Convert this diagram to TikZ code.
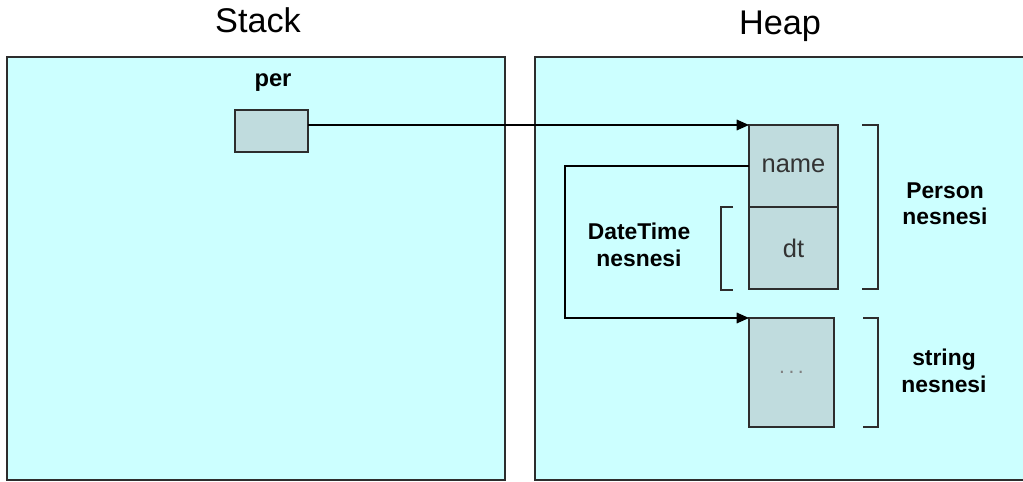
\documentclass[tikz,border=0pt]{standalone}
\usepackage{fontspec}
\setmainfont{Liberation Sans}
\usepackage{tikz}
\usetikzlibrary{arrows.meta, positioning}
\definecolor{memcyan}{RGB}{204,255,255}
\definecolor{cellgray}{RGB}{192,220,222}
\definecolor{edgegray}{RGB}{45,45,45}
\tikzstyle{area} = [rectangle, draw=edgegray, fill=memcyan, line width=1.2pt,
  minimum height=8.46cm]
\tikzstyle{cell} = [rectangle, draw=edgegray, fill=cellgray, line width=0.8pt,
  outer sep=0pt, text=black!80, font=\fontsize{14.5}{16}\selectfont]
\tikzstyle{lbl} = [align=center, font=\fontsize{13}{15}\selectfont\bfseries]
\tikzstyle{arrow} = [line width=0.9pt, draw=black, -{Triangle[length=7pt, width=6pt]}]
\tikzstyle{bracket} = [line width=0.9pt, draw=edgegray]

\begin{document}
\begin{tikzpicture}[x=0.02cm, y=-0.02cm]
    \useasboundingbox (0,0) rectangle (1023,482);
    \clip (0,0) rectangle (1023,482);
    % memory areas
    \node[area, minimum width=9.96cm] (stack) at (256,268.5) {};
    \node[area, minimum width=9.92cm] (heap) at (783,268.5) {};
    \node[anchor=base, font=\fontsize{19.5}{21}\selectfont] (stacktitle) at (258,33) {Stack};
    \node[anchor=base, font=\fontsize{19.5}{21}\selectfont] (heaptitle) at (780,35) {Heap};
    % reference variable
    \node[cell, minimum width=1.46cm, minimum height=0.84cm] (per) at (271.5,131) {};
    \node[lbl, anchor=base, font=\fontsize{13.5}{15}\selectfont\bfseries] (perlbl) at (273,87) {per};
    % Person object with its fields
    \node[cell, minimum width=1.78cm, minimum height=1.64cm] (name) at (793.5,166) {name};
    \node[cell, below=0pt of name, minimum width=1.78cm, minimum height=1.64cm] (dt) {dt};
    % string object
    \node[cell, anchor=north west, minimum width=1.7cm, minimum height=2.18cm,
      text=gray] (str) at (749,318) {\fontsize{12}{14}\selectfont .\,.\,.};
    % brackets and captions
    \draw[bracket] (862,125) -- (878,125) -- (878,289) -- (862,289);
    \draw[bracket] (733,207) -- (721,207) -- (721,290) -- (733,290);
    \draw[bracket] (863,318) -- (878,318) -- (878,427) -- (863,427);
    \node[lbl] (personlbl) at (945,204) {Person\\nesnesi};
    \node[lbl] (datelbl) at (639,245) {DateTime\\nesnesi};
    \node[lbl] (strlbl) at (944,371) {string\\nesnesi};
    % references
    \draw[arrow] (per.east |- name.north west) -- (name.north west);
    \draw[arrow] (name.west) -- ++(-184,0) |- (str.north west);
  \end{tikzpicture}
\end{document}
